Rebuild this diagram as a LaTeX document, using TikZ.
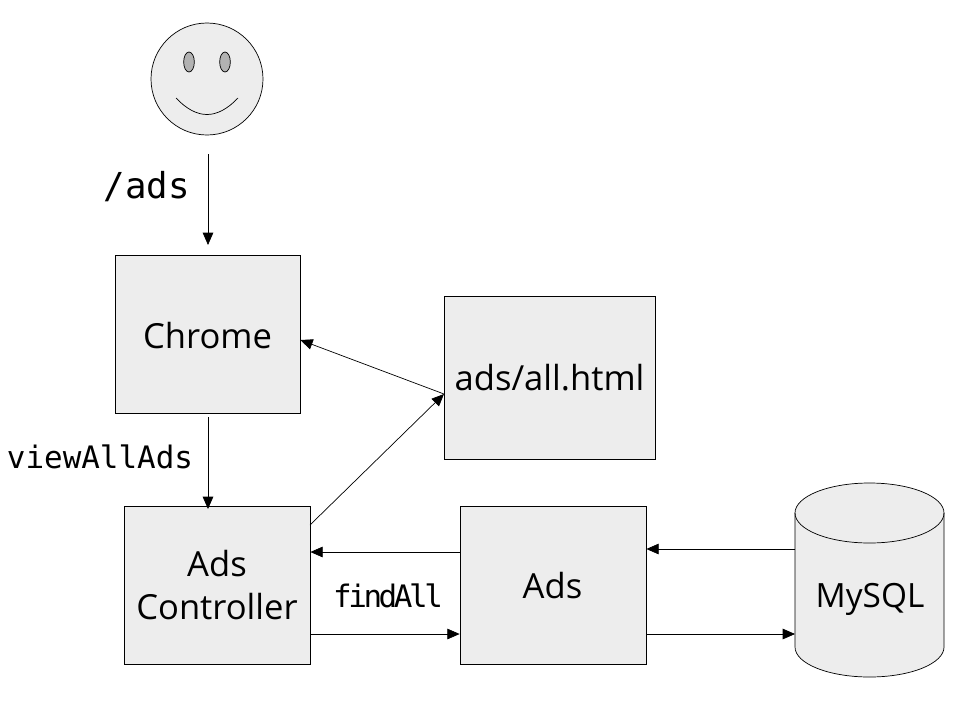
\documentclass[tikz,border=0pt]{standalone}
\usepackage{fontspec}
\setmainfont{Open Sans}
\setmonofont{DejaVu Sans Mono}
\usepackage{tikz}
\usetikzlibrary{arrows.meta, positioning, shapes.geometric}
\definecolor{boxGray}{gray}{0.93}
\definecolor{eyeGray}{gray}{0.7}
\tikzset{
    block/.style={draw, fill=boxGray, line width=0.6pt, inner sep=0pt, align=center, font=\fontsize{29.5}{36}\selectfont},
    call/.style={font=\ttfamily\fontsize{26.4}{30}\selectfont, inner sep=0pt},
    flow/.style={->, line width=0.6pt}
}

\begin{document}
\begin{tikzpicture}[x=0.03cm, y=-0.03cm, >={Triangle[length=10.5pt, width=9pt]}]
    \useasboundingbox (0,0) rectangle (959,700);

    % person
    \node[circle, draw, fill=boxGray, line width=0.6pt, minimum size=3.36cm, inner sep=0pt] (face) at (207,79) {};
    \node[ellipse, draw, fill=eyeGray, line width=0.6pt, minimum width=0.32cm, minimum height=0.6cm, inner sep=0pt] (eyeL) at (189,62) {};
    \node[ellipse, draw, fill=eyeGray, line width=0.6pt, minimum width=0.32cm, minimum height=0.6cm, inner sep=0pt] (eyeR) at (225,62) {};
    \coordinate (smileL) at (176,98);
    \coordinate (smileR) at (238,98);
    \draw[line width=0.6pt] (smileL) .. controls (197,120) and (217,120) .. (smileR);

    % boxes
    \node[block, text height=25.5pt, minimum width=5.55cm, minimum height=4.74cm] (chrome) at (207.5,334) {Chrome};
    \node[block, minimum width=6.33cm, minimum height=4.89cm] (html) at (549.5,377.5) {ads/all.html};
    \node[block, minimum width=5.58cm, minimum height=4.74cm] (ctrl) at (217,585) {Ads\\Controller};
    \node[block, minimum width=5.58cm, minimum height=4.74cm] (ads) at (553,585) {};
    \node[font=\fontsize{29.5}{34}\selectfont, inner sep=0pt] (adsText) at (552.5,586) {Ads};

    % database
    \draw[fill=boxGray, line width=0.6pt] (795,513) -- (795,647) arc[start angle=180, end angle=360, x radius=2.235cm, y radius=0.9cm] -- (944,513) arc[start angle=0, end angle=180, x radius=2.235cm, y radius=0.9cm] -- cycle;
    \draw[line width=0.6pt] (795,513) arc[start angle=180, end angle=360, x radius=2.235cm, y radius=0.9cm];
    \node[font=\fontsize{28.5}{34}\selectfont, inner sep=0pt] (mysqlText) at (870,599) {MySQL};

    % arrows
    \coordinate (start) at (208,154);
    \coordinate (chromeTop) at (208,245);
    \draw[flow] (start) -- (chromeTop);
    \coordinate (chromeBot) at (208,417);
    \coordinate (ctrlTop) at (208,509);
    \draw[flow] (chromeBot) -- (ctrlTop);
    \coordinate (htmlMid) at (444,394);
    \draw[flow] (htmlMid) -- (chrome.east |- 0,340);
    \coordinate (ctrlOut) at (310,525);
    \draw[flow] (ctrlOut) -- (htmlMid);
    \draw[flow] (ads.west |- 0,552) -- (ctrl.east |- 0,552);
    \draw[flow] (ctrl.east |- 0,634) -- (ads.west |- 0,634);
    \coordinate (dbOut) at (795,549);
    \coordinate (dbIn) at (795,634);
    \draw[flow] (dbOut) -- (ads.east |- dbOut);
    \draw[flow] (ads.east |- dbIn) -- (dbIn);

    % labels
    \node[call, font=\ttfamily\fontsize{30.5}{34}\selectfont] (adsLabel) at (147,187) {/ads};
    \node[call] (viewLabel) at (100,457) {viewAllAds};
    \node[call, font=\ttfamily\fontsize{26.4}{30}\selectfont\addfontfeature{LetterSpace=-11}] (findLabel) at (388,596) {findAll};
\end{tikzpicture}
\end{document}
